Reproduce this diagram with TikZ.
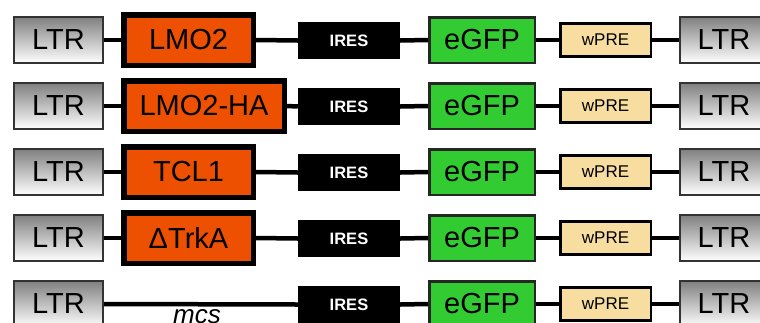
\documentclass[tikz,border=0pt]{standalone}
\usepackage{fontspec}
\setmainfont{Liberation Sans}
\definecolor{orangebox}{RGB}{236,80,0}
\definecolor{greenbox}{RGB}{50,204,50}
\definecolor{beigebox}{RGB}{247,222,160}
\begin{document}
\begin{tikzpicture}[x=1pt,y=-1pt,
  ltr/.style={draw=black!80, line width=2pt, top color=black!50, bottom color=white,
    minimum width=89pt, minimum height=46pt, inner sep=0pt, font=\fontsize{29}{29}\selectfont},
  gene/.style={draw=black, fill=orangebox, line width=5.5pt, minimum height=50.5pt,
    inner sep=0pt, font=\fontsize{29}{29}\selectfont},
  ires/.style={fill=black, text=white, minimum width=102pt, minimum height=37pt,
    inner sep=0pt, font=\fontsize{16.5}{16.5}\selectfont\bfseries},
  egfp/.style={draw=black!85, fill=greenbox, line width=2.5pt, minimum width=105.5pt,
    minimum height=45.5pt, inner sep=0pt, font=\fontsize{29}{29}\selectfont},
  wpre/.style={draw=black, fill=beigebox, line width=2.5pt, minimum width=90.5pt,
    minimum height=33pt, inner sep=0pt, font=\fontsize{17}{17}\selectfont},
  conn/.style={line width=4.5pt, black}]
\useasboundingbox (0,0) rectangle (760,322);
\clip (0,0) rectangle (760,322);
\foreach \r/\txt/\gx/\gw in {1/LMO2/188.5/129.5, 2/LMO2-HA/204/160.5, 3/TCL1/188.5/129.5, 4/ΔTrkA/188.5/129.5}{
  \pgfmathsetmacro{\cy}{40+66*(\r-1)}
  \node[ltr] (l\r) at (58.5,\cy) {LTR};
  \node[gene, minimum width=\gw pt] (g\r) at (\gx,\cy) {\txt};
  \node[ires] (i\r) at (349,\cy+0.5) {IRES};
  \node[egfp] (e\r) at (482,\cy) {eGFP};
  \node[wpre] (w\r) at (605.5,\cy) {wPRE};
  \node[ltr] (r\r) at (724,\cy) {LTR};
  \draw[conn] (l\r.east) -- (g\r.west);
  \draw[conn] (g\r.east) -- (i\r.west);
  \draw[conn] (i\r.east) -- (e\r.west);
  \draw[conn] (e\r.east) -- (w\r.west);
  \draw[conn] (w\r.east) -- (r\r.west);
}
\node[ltr] (l5) at (58.5,304) {LTR};
\node[ires] (i5) at (349,304.5) {IRES};
\node[egfp] (e5) at (482,304) {eGFP};
\node[wpre] (w5) at (605.5,304) {wPRE};
\node[ltr] (r5) at (724,304) {LTR};
\draw[conn] (l5.east) -- (i5.west);
\draw[conn] (i5.east) -- (e5.west);
\draw[conn] (e5.east) -- (w5.west);
\draw[conn] (w5.east) -- (r5.west);
\node[anchor=base, inner sep=0pt, font=\fontsize{26}{26}\selectfont\itshape] (mcs) at (197,323) {mcs};
\end{tikzpicture}
\end{document}
